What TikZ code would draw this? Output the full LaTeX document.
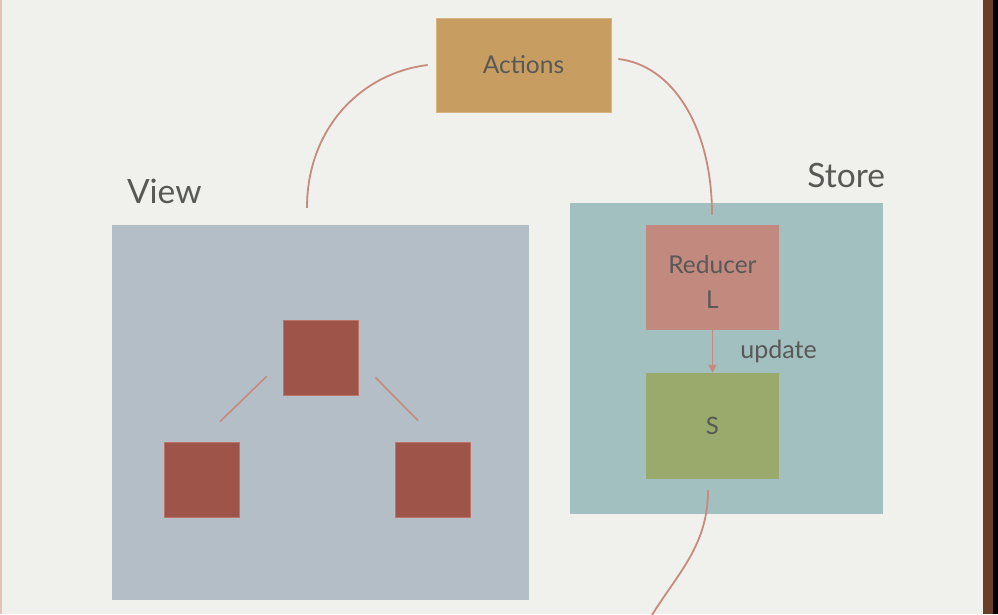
\documentclass[tikz,border=0pt]{standalone}
\usepackage{fontspec}
\setmainfont{Lato}
\usetikzlibrary{arrows.meta,calc}

\definecolor{paper}{RGB}{240,240,237}
\definecolor{inkgray}{RGB}{88,88,86}
\definecolor{actionfill}{RGB}{200,157,98}
\definecolor{viewfill}{RGB}{179,190,199}
\definecolor{storefill}{RGB}{162,192,191}
\definecolor{reducerfill}{RGB}{194,138,126}
\definecolor{statefill}{RGB}{154,170,109}
\definecolor{compfill}{RGB}{158,84,73}
\definecolor{compedge}{RGB}{186,116,104}
\definecolor{flowline}{RGB}{200,138,124}
\definecolor{frameedge}{RGB}{107,62,40}
\definecolor{leftedge}{RGB}{224,196,188}
\definecolor{actionedge}{RGB}{214,180,130}

\begin{document}
\begin{tikzpicture}[x=1pt,y=1pt,yscale=-1,xscale=1,
  block/.style={inner sep=0pt, text=inkgray, align=center},
  comp/.style={block, fill=compfill, draw=compedge, line width=0.8pt, minimum width=75pt, minimum height=75pt},
  title/.style={inner sep=0pt, text=inkgray, font=\fontsize{33.5}{40}\selectfont},
  flow/.style={draw=flowline, line width=1.8pt},
  link/.style={draw=flowline, line width=1.6pt}]
%set diagram left start at 0, and has height of 614
\useasboundingbox (0,0) rectangle (998,614);
\fill [paper] (0,0) rectangle (998,614);
\fill [leftedge] (0,0) rectangle (1.5,614);
\fill [frameedge] (983,0) rectangle (993,614);
\fill [black] (993,0) rectangle (998,614);

%Shape: Rectangle [id:view]
\node (view) at (320.5,412.5) [block, fill=viewfill, minimum width=417pt, minimum height=375pt] {};
%Shape: Rectangle [id:store]
\node (store) at (726.5,358.5) [block, fill=storefill, minimum width=313pt, minimum height=311pt] {};
%Shape: Rectangle [id:actions]
\node (actions) at (523.5,65) [block, fill=actionfill, draw=actionedge, line width=0.6pt, minimum width=175pt, minimum height=94pt, font=\fontsize{24.5}{28}\selectfont] {Actions};
%Shape: Rectangle [id:reducer]
\node (reducer) at (712.5,277.5) [block, fill=reducerfill, minimum width=133pt, minimum height=105pt] {};
% Text Node
\node (reducertext) at ($(reducer.center)+(0,4)$) [block, font=\fontsize{24.5}{35}\selectfont] {Reducer\\L};
%Shape: Rectangle [id:state]
\node (state) at (712.5,426) [block, fill=statefill, minimum width=133pt, minimum height=106pt, font=\fontsize{24}{28}\selectfont] {S};

%Shape: Square [id:comptop]
\node (comptop) at (320.5,357.5) [comp] {};
%Shape: Square [id:compleft]
\node (compleft) at (201.5,479.5) [comp] {};
%Shape: Square [id:compright]
\node (compright) at (433,479.5) [comp] {};

%Straight Lines [id:treeleft]
\draw [link] ($(comptop.south west)+(-16,-19)$) -- ($(compleft.north)+(18.5,-20)$);
%Straight Lines [id:treeright]
\draw [link] ($(comptop.south east)+(17,-18)$) -- ($(compright.north)+(-15,-21)$);

%Curve Lines [id:toactions]
\draw [flow] ($(actions.west)+(-8,0)$) .. controls +(-66,8) and +(0,-80) .. ($(view.north)+(-13.5,-17)$);
%Curve Lines [id:fromactions]
\draw [flow] ($(actions.east)+(7,-6)$) .. controls +(54,6) and +(0,-88) .. ($(reducer.north)+(-0.5,-10)$);
%Straight Lines [id:update]
\draw [flow, -{Triangle[width=8pt,length=8pt]}] (reducer.south) -- (state.north)
  node [midway, right=27pt, inner sep=0pt, text=inkgray, font=\fontsize{25}{30}\selectfont] (updatelabel) {update};
%Curve Lines [id:fromstate]
\coordinate (viewfeed) at (652,615);
\draw [flow] ($(state.south)+(-4.5,11)$) .. controls +(0,55) and +(26,-42) .. (viewfeed);

% Text Node
\node (viewtitle) [title, anchor=south west] at ($(view.north west)+(15,-21)$) {View};
% Text Node
\node (storetitle) [title, anchor=south east] at ($(store.north east)+(2,-15)$) {Store};

\end{tikzpicture}
\end{document}
